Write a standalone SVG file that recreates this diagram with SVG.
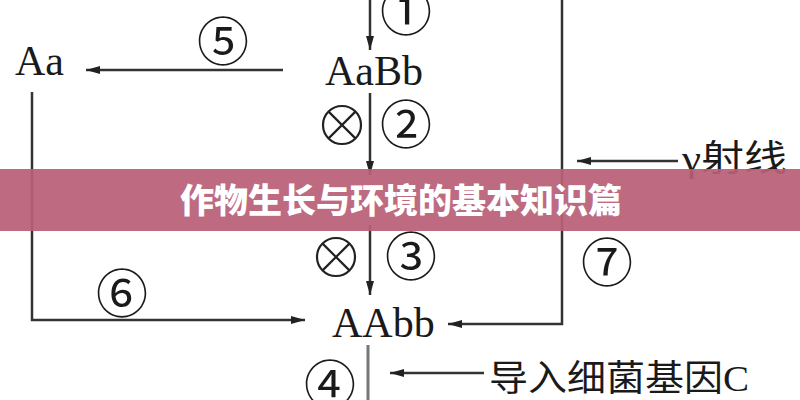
<svg xmlns="http://www.w3.org/2000/svg" width="800" height="400" viewBox="0 0 800 400">
<style>
.t{font-family:"Liberation Serif","Noto Serif",serif;font-size:42px;fill:#1a1a1a}
.c{font-family:"Noto Sans CJK SC","DejaVu Sans",sans-serif;font-size:52px;fill:#1a1a1a;text-anchor:middle}
.z{font-family:"Liberation Serif","Noto Sans CJK SC",serif;font-size:36px;fill:#1a1a1a}
.l{fill:none;stroke:#333;stroke-width:2.5}
.x{fill:none;stroke:#222;stroke-width:2.2}
</style>
<defs>
<marker id="ah" viewBox="0 0 14 8" refX="14" refY="4" markerWidth="14" markerHeight="8" markerUnits="userSpaceOnUse" orient="auto">
<path d="M0,0 L14,4 L0,8 Z" fill="#222"/>
</marker>
</defs>
<rect width="800" height="400" fill="#fff"/>
<g id="connectors">
<line class="l" x1="370" y1="0" x2="370" y2="50" marker-end="url(#ah)"/>
<line class="l" x1="283" y1="70" x2="86" y2="70" marker-end="url(#ah)"/>
<polyline class="l" points="32,92 32,320 305,320" marker-end="url(#ah)"/>
<line class="l" x1="370" y1="93" x2="370" y2="175" marker-end="url(#ah)"/>
<line class="l" x1="370" y1="225" x2="370" y2="295" marker-end="url(#ah)"/>
<polyline class="l" points="562,0 562,324 448,324" marker-end="url(#ah)"/>
<line class="l" x1="678" y1="161" x2="577" y2="161" marker-end="url(#ah)"/>
<line x1="368" y1="345" x2="368" y2="400" stroke="#777" stroke-width="3"/>
<line class="l" x1="484" y1="373" x2="390" y2="373" marker-end="url(#ah)"/>
</g>
<g id="n-Aa"><text class="t" x="15" y="75">Aa</text></g>
<g id="n-AaBb"><text class="t" x="325" y="85">AaBb</text></g>
<g id="n-AAbb"><text class="t" x="332" y="337">AAbb</text></g>
<g id="n-gamma"><text class="z" x="682" y="171" textLength="105" lengthAdjust="spacingAndGlyphs">γ射线</text></g>
<g id="n-geneC"><text class="z" x="489" y="391" textLength="260" lengthAdjust="spacingAndGlyphs">导入细菌基因C</text></g>
<g id="labels">
<text class="c" x="406" y="31">①</text>
<text class="c" x="223" y="61">⑤</text>
<text class="c" x="406" y="144">②</text>
<text class="c" x="411" y="276">③</text>
<text class="c" x="122" y="313">⑥</text>
<text class="c" x="607" y="282">⑦</text>
<text class="c" x="330" y="404">④</text>
</g>
<g id="selfing">
<circle class="x" cx="342" cy="125" r="19"/>
<path class="x" d="M328.6,111.6 L355.4,138.4 M355.4,111.6 L328.6,138.4"/>
<circle class="x" cx="336" cy="257" r="19"/>
<path class="x" d="M322.6,243.6 L349.4,270.4 M349.4,243.6 L322.6,270.4"/>
</g>
<g id="banner">
<rect x="0" y="169" width="800" height="62" fill="#b95f77" opacity="0.93"/>
<text x="401" y="213" text-anchor="middle" font-family="Noto Sans CJK SC,sans-serif" font-weight="900" font-size="34" fill="#fff">作物生长与环境的基本知识篇</text>
</g>
</svg>
